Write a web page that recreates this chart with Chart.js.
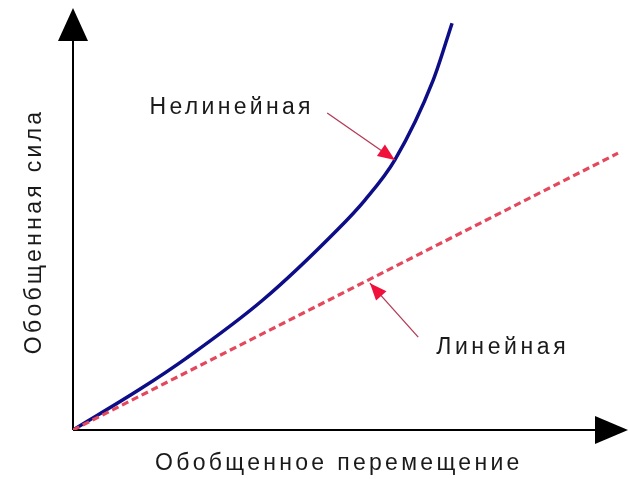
<!DOCTYPE html>
<html><head><meta charset="utf-8">
<script src="https://cdn.jsdelivr.net/npm/chart.js@4/dist/chart.umd.min.js"></script>
<style>html,body{margin:0;padding:0;background:#fff;}canvas{display:block;}</style>
</head><body>
<canvas id="c" width="629" height="479"></canvas>
<script>
// Data (arbitrary units: generalized displacement 0..100, generalized force 0..100)
const nonlinearX = [0, 12.1, 20.5, 34.2, 47.6, 52.6, 58.0, 64.9, 68.3];
const nonlinearY = [0, 9.7, 17.1, 30.8, 47.4, 54.5, 64.0, 82.9, 96.4];
const linearX = [0, 98.2];
const linearY = [0, 65.6];
const xTitle = 'Обобщенное перемещение';
const yTitle = 'Обобщенная сила';
const labelNonlinear = 'Нелинейная';
const labelLinear = 'Линейная';
// pointer arrows [fromX, fromY, toX, toY] and label anchors in data units
const pointerNonlinear = [45.8, 75.1, 58.0, 64.0];
const pointerLinear = [62.2, 22.0, 53.5, 34.8];
const anchorNonlinear = [28.3, 76.3];
const anchorLinear = [77.1, 19.4];
const anchorXTitle = [47.6, -8.0];

const toPts = (xs, ys) => xs.map((x, i) => ({x, y: ys[i]}));

const FONT = '23px "Liberation Sans", Arial, sans-serif';

function drawText(ctx, txt, x, y, spacing) {
  ctx.save();
  ctx.font = FONT;
  try { ctx.letterSpacing = spacing + 'px'; } catch(e) {}
  ctx.fillStyle = '#1a1a1a';
  ctx.textAlign = 'center';
  ctx.textBaseline = 'middle';
  ctx.fillText(txt, x + spacing / 2, y);
  ctx.restore();
}

function arrowHead(ctx, x1, y1, x2, y2, len, half, color) {
  const a = Math.atan2(y2 - y1, x2 - x1);
  ctx.save();
  ctx.fillStyle = color;
  ctx.beginPath();
  ctx.moveTo(x2, y2);
  ctx.lineTo(x2 - len * Math.cos(a) + half * Math.sin(a), y2 - len * Math.sin(a) - half * Math.cos(a));
  ctx.lineTo(x2 - len * Math.cos(a) - half * Math.sin(a), y2 - len * Math.sin(a) + half * Math.cos(a));
  ctx.closePath();
  ctx.fill();
  ctx.restore();
}

const deco = {
  id: 'deco',
  beforeDatasetsDraw(chart) {
    const {ctx, chartArea: ca} = chart;
    const xs = chart.scales.x, ys = chart.scales.y;
    const ox = xs.getPixelForValue(0), oy = ys.getPixelForValue(0);
    ctx.save();
    ctx.strokeStyle = '#000';
    ctx.lineWidth = 2;
    ctx.beginPath();
    ctx.moveTo(ox, oy); ctx.lineTo(ox, ca.top + 30);
    ctx.moveTo(ox, oy); ctx.lineTo(ca.right - 30, oy);
    ctx.stroke();
    ctx.restore();
    arrowHead(ctx, ox, oy, ox, ca.top, 33, 15, '#000');
    arrowHead(ctx, ox, oy, ca.right, oy, 33, 14, '#000');
    // titles
    drawText(ctx, xTitle, xs.getPixelForValue(anchorXTitle[0]), ys.getPixelForValue(anchorXTitle[1]), 3.3);
    ctx.save();
    ctx.translate(35, (ca.top + oy) / 2 + 14);
    ctx.rotate(-Math.PI / 2);
    drawText(ctx, yTitle, 0, 0, 3.3);
    ctx.restore();
  },
  afterDatasetsDraw(chart) {
    const {ctx} = chart;
    const xs = chart.scales.x, ys = chart.scales.y;
    [pointerNonlinear, pointerLinear].forEach(p => {
      const x1 = xs.getPixelForValue(p[0]), y1 = ys.getPixelForValue(p[1]);
      const x2 = xs.getPixelForValue(p[2]), y2 = ys.getPixelForValue(p[3]);
      ctx.save();
      ctx.strokeStyle = '#b43a55';
      ctx.lineWidth = 1.3;
      ctx.beginPath(); ctx.moveTo(x1, y1); ctx.lineTo(x2, y2); ctx.stroke();
      ctx.restore();
      arrowHead(ctx, x1, y1, x2, y2, 17, 7, '#f0103c');
    });
    drawText(ctx, labelNonlinear, xs.getPixelForValue(anchorNonlinear[0]), ys.getPixelForValue(anchorNonlinear[1]), 3.3);
    drawText(ctx, labelLinear, xs.getPixelForValue(anchorLinear[0]), ys.getPixelForValue(anchorLinear[1]), 3.6);
  }
};

new Chart(document.getElementById('c').getContext('2d'), {
  type: 'scatter',
  data: {
    datasets: [
      {data: toPts(linearX, linearY), showLine: true, borderColor: '#e4485c', borderWidth: 3.2,
       borderDash: [7, 4], pointRadius: 0, fill: false},
      {data: toPts(nonlinearX, nonlinearY), showLine: true, borderColor: '#0d0d88', borderWidth: 3.5,
       cubicInterpolationMode: 'monotone', pointRadius: 0, fill: false}
    ]
  },
  options: {
    responsive: false,
    animation: false,
    layout: {padding: {left: 73, top: 8, right: 1, bottom: 49}},
    scales: {
      x: {type: 'linear', min: 0, max: 100, display: false},
      y: {type: 'linear', min: 0, max: 100, display: false}
    },
    plugins: {legend: {display: false}, tooltip: {enabled: false}}
  },
  plugins: [deco]
});
</script>
</body></html>
